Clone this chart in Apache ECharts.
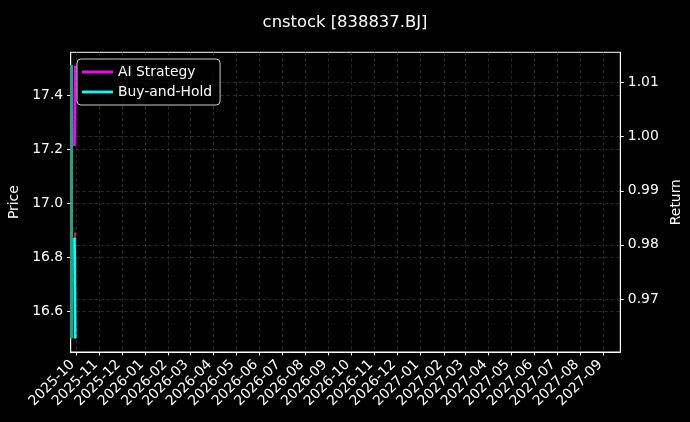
<!DOCTYPE html>
<html>
<head>
<meta charset="utf-8">
<script src="https://cdn.jsdelivr.net/npm/echarts@6/dist/echarts.min.js"></script>
<style>
html,body{margin:0;padding:0;background:#000;}
#c{width:690px;height:422px;}
</style>
</head>
<body>
<div id="c"></div>
<script>
// ---- data ----
const titleText = 'cnstock [838837.BJ]';
const monthTicks = ['2025-10','2025-11','2025-12','2026-01','2026-02','2026-03','2026-04','2026-05','2026-06','2026-07','2026-08','2026-09','2026-10','2026-11','2026-12','2027-01','2027-02','2027-03','2027-04','2027-05','2027-06','2027-07','2027-08','2027-09'];
const priceTicks = [16.6, 16.8, 17.0, 17.2, 17.4];
const returnTicks = [0.97, 0.98, 0.99, 1.00, 1.01];
const candleDates = ['2025-09-25', '2025-09-30'];
const priceOpen  = [16.50, 16.89];
const priceClose = [17.51, 16.87];
const priceLow   = [16.50, 16.87];
const priceHigh  = [17.51, 16.89];
const lineDates = ['2025-09-29', '2025-09-30'];
const aiStrategy = [0.9983, 1.0131];
const buyHold    = [0.9813, 0.9627];
const xRange = ['2025-09-24', '2027-09-23'];

// ---- helpers ----
function ts(s){ const p = s.split('-').map(Number); return Date.UTC(p[0], p[1]-1, p[2] || 1); }
function fmtMonth(v){ const d = new Date(v); return d.getUTCFullYear() + '-' + String(d.getUTCMonth()+1).padStart(2,'0'); }
const monthVals = monthTicks.map(ts);
const FONT = 'DejaVu Sans';
const FS = 13.9;

const chart = echarts.init(document.getElementById('c'), null, {renderer:'canvas'});
const grid = {left:70.7, right:69.7, top:52.3, bottom:70, show:true, borderColor:'#ffffff', borderWidth:1, backgroundColor:'#000', containLabel:false, outerBoundsMode:'none'};
const splitStyle = {show:true, lineStyle:{color:'#4a4a4a', width:0.6, type:[3,3]}};

chart.setOption({
  backgroundColor:'#000',
  animation:false,
  title:{text:titleText, left:'center', top:10, textStyle:{color:'#fff', fontFamily:FONT, fontSize:16.4, fontWeight:'normal'}},
  legend:{
    left:77, top:59, orient:'vertical', itemWidth:31, itemHeight:2.8, itemGap:6,
    padding:[6,8,6,5], borderColor:'#cccccc', borderWidth:1, borderRadius:4, backgroundColor:'rgba(0,0,0,0.8)',
    textStyle:{color:'#fff', fontFamily:FONT, fontSize:FS}, data:[{name:'AI Strategy', icon:'rect'},{name:'Buy-and-Hold', icon:'rect'}]
  },
  grid:grid,
  xAxis:{
    type:'value', min:ts(xRange[0]), max:ts(xRange[1]),
    axisLine:{show:true, lineStyle:{color:'#fff', width:1}},
    axisTick:{show:true, customValues:monthVals, length:3.5, lineStyle:{color:'#fff'}},
    axisLabel:{customValues:monthVals, formatter:fmtMonth, rotate:45, color:'#fff', fontFamily:FONT, fontSize:FS, margin:7, padding:[0,5,0,0]},
    splitLine:splitStyle
  },
  yAxis:[
    {type:'value', position:'left', min:16.448, max:17.558, name:'Price', nameLocation:'middle', nameGap:48, nameRotate:90,
     nameTextStyle:{color:'#fff', fontFamily:FONT, fontSize:FS},
     axisLine:{show:true, lineStyle:{color:'#fff'}},
     axisTick:{show:true, customValues:priceTicks, length:3.5, lineStyle:{color:'#fff'}},
     axisLabel:{customValues:priceTicks, formatter:v=>v.toFixed(1), color:'#fff', fontFamily:FONT, fontSize:FS, margin:7.5},
     splitLine:splitStyle},
    {type:'value', position:'right', min:0.9602, max:1.0156, name:'Return', nameLocation:'middle', nameGap:42, nameRotate:90,
     nameTextStyle:{color:'#fff', fontFamily:FONT, fontSize:FS},
     axisLine:{show:true, lineStyle:{color:'#fff'}},
     axisTick:{show:true, customValues:returnTicks, length:3.5, lineStyle:{color:'#fff'}},
     axisLabel:{customValues:returnTicks, formatter:v=>v.toFixed(2), color:'#fff', fontFamily:FONT, fontSize:FS, margin:7.5},
     splitLine:splitStyle}
  ],
  series:[
    {type:'candlestick', name:'Price', yAxisIndex:0, barWidth:2, z:1,
     itemStyle:{color:'#1fa382', color0:'#d0202a', borderColor:'#1fa382', borderColor0:'#d0202a', borderWidth:1},
     data:candleDates.map((d,i)=>[ts(d), priceOpen[i], priceClose[i], priceLow[i], priceHigh[i]])},
    {type:'line', name:'AI Strategy', yAxisIndex:1, showSymbol:false, z:3,
     lineStyle:{color:'#ff00ff', width:2.8}, itemStyle:{color:'#ff00ff'},
     data:lineDates.map((d,i)=>[ts(d), aiStrategy[i]])},
    {type:'line', name:'Buy-and-Hold', yAxisIndex:1, showSymbol:false, z:3,
     lineStyle:{color:'#00ffff', width:2.8}, itemStyle:{color:'#00ffff'},
     data:lineDates.map((d,i)=>[ts(d), buyHold[i]])}
  ]
});
</script>
</body>
</html>
